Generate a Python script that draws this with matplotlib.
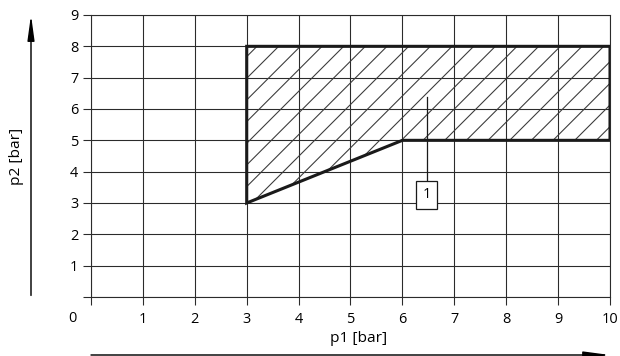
import matplotlib
matplotlib.use("Agg")
import matplotlib.pyplot as plt
from matplotlib.patches import Polygon
from matplotlib.transforms import blended_transform_factory

# operating range, corner points of the hatched area
p1 = [3, 3, 10, 10, 6, 3]
p2 = [3, 8, 8, 5, 5, 3]

x_ticks = list(range(0, 11))
y_ticks = list(range(0, 10))
x_labels = [""] + [str(v) for v in range(1, 11)]
y_labels = [""] + [str(v) for v in range(1, 10)]

label_text = "1"
label_pos = (6.47, 3.27)
leader_top = 6.38

DPI = 130
LINE = "#2b2b2b"

plt.rcParams.update({
    "font.family": ["Open Sans", "DejaVu Sans"],
    "font.size": 8,
    "hatch.linewidth": 0.6,
    "hatch.color": "#3a3a3a",
})

fig = plt.figure(figsize=(620 / DPI, 356 / DPI), dpi=DPI)
ax = fig.add_axes([91 / 620, 1 - 297 / 356, 519 / 620, 282 / 356])

ax.set_xlim(0, 10)
ax.set_ylim(0, 9)
ax.set_xticks(x_ticks)
ax.set_xticklabels(x_labels)
ax.set_yticks(y_ticks)
ax.set_yticklabels(y_labels)
ax.tick_params(axis="x", length=4.5, width=0.6, color=LINE, pad=4)
ax.tick_params(axis="y", length=4.5, width=0.6, color=LINE, pad=2.5)
ax.grid(True, color=LINE, lw=0.6)
for s in ax.spines.values():
    s.set_color(LINE)
    s.set_linewidth(0.6)
ax.set_axisbelow(True)

# shared origin label
ax.annotate("0", xy=(0, 0), xytext=(-19 * 72 / DPI, -21 * 72 / DPI),
            textcoords="offset points", ha="center", va="center",
            annotation_clip=False)

# hatched area with bold outline
ax.add_patch(Polygon(list(zip(p1, p2)), closed=True, facecolor="none",
                     edgecolor="#3a3a3a", hatch="//", lw=0))
ax.add_patch(Polygon(list(zip(p1, p2)), closed=True, facecolor="none",
                     edgecolor="#1a1a1a", lw=1.7, joinstyle="miter", zorder=4))

# leader line and boxed label
ax.plot([label_pos[0], label_pos[0]], [label_pos[1] + 0.38, leader_top],
        color="#1a1a1a", lw=0.7, zorder=5)
ax.text(label_pos[0], label_pos[1], label_text, ha="center", va="center",
        fontsize=8, zorder=6,
        bbox=dict(boxstyle="square,pad=0.45", fc="white", ec="#1a1a1a", lw=0.7))

# axis arrows outside the plot
ty = blended_transform_factory(ax.transAxes, ax.transData)
ax.annotate("", xy=(-60 / 519, 9), xytext=(-60 / 519, 0.05), xycoords=ty,
            textcoords=ty, annotation_clip=False,
            arrowprops=dict(arrowstyle="-|>,head_length=1.45,head_width=0.2",
                            color="#555555", lw=0.8, fc="black", ec="black",
                            shrinkA=0, shrinkB=0))
tx = blended_transform_factory(ax.transData, ax.transAxes)
ax.annotate("", xy=(10, -58 / 282), xytext=(0, -58 / 282), xycoords=tx,
            textcoords=tx, annotation_clip=False,
            arrowprops=dict(arrowstyle="-|>,head_length=1.5,head_width=0.2",
                            color="#aaaaaa", lw=0.8, fc="black", ec="black",
                            shrinkA=0, shrinkB=0))

fig.text(359 / 620, 1 - 338 / 356, "p1 [bar]", ha="center", va="center",
         fontsize=8.5)
fig.text(17 / 620, 1 - 156 / 356, "p2 [bar]", ha="center", va="center",
         fontsize=8.5, rotation=90)

fig.savefig("out.png", dpi=DPI)
